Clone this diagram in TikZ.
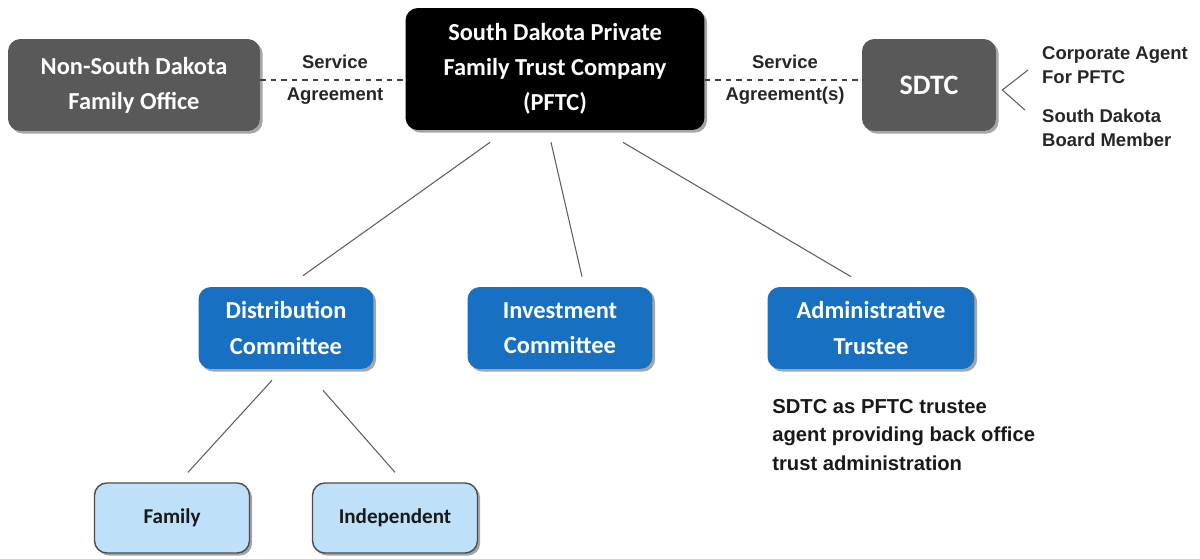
\documentclass[tikz,border=0pt]{standalone}
\usepackage{fontspec}
\setmainfont{Carlito}
\newfontfamily\arialfont{Liberation Sans}
\usetikzlibrary{calc,shadows}
\definecolor{boxGray}{HTML}{595959}
\definecolor{boxBlue}{HTML}{1870C2}
\definecolor{boxLight}{HTML}{BEE0F8}
\definecolor{lineGray}{HTML}{5E5E5E}

\begin{document}
\begin{tikzpicture}[x=0.02cm,y=-0.02cm]
    \tikzset{
        box/.style={rounded corners=7pt, align=center, font=\bfseries\fontsize{13.9}{20}\selectfont,
            text=white, drop shadow={shadow xshift=1.5pt, shadow yshift=-1.5pt, opacity=0.35, fill=black}},
        darkbox/.style={box, fill=boxGray, minimum width=5.04cm, minimum height=1.84cm},
        blackbox/.style={box, fill=black, minimum width=5.98cm, minimum height=2.44cm},
        bluebox/.style={box, fill=boxBlue, minimum height=1.64cm},
        lightbox/.style={box, fill=boxLight, draw=black!70, thick, text=black!90,
            font=\bfseries\fontsize{12}{14}\selectfont, minimum height=1.4cm},
        link/.style={draw=lineGray, semithick},
        svc/.style={draw=black!75, dashed, semithick},
        lbl/.style={font=\arialfont\bfseries\fontsize{10.5}{13.6}\selectfont, text=black!85}
    }
    \useasboundingbox (0,0) rectangle (1200,558);

    % top row
    \node[darkbox] (office) at (134,85) {Non-South Dakota\\Family Office};
    \node[blackbox] (pftc) at (555,69) {South Dakota Private\\Family Trust Company\\(PFTC)};
    \node[darkbox, minimum width=2.68cm, font=\bfseries\fontsize{16}{20}\selectfont] (sdtc) at (929,85) {SDTC};

    % committees
    \node[bluebox, minimum width=3.5cm] (dist) at (286,328) {Distribution\\Committee};
    \node[bluebox, minimum width=3.7cm] (invest) at (560,328) {Investment\\Committee};
    \node[bluebox, minimum width=4.14cm] (admin) at (871,328) {Administrative\\Trustee};

    \node[lightbox, minimum width=3.1cm] (family) at (172,518) {Family};
    \node[lightbox, minimum width=3.3cm] (indep) at (395,518) {Independent};

    % service agreements
    \draw[svc] ([yshift=0.1cm]office.east) -- ([yshift=0.1cm]office.east -| pftc.west);
    \draw[svc] ([yshift=0.1cm]sdtc.west -| pftc.east) -- ([yshift=0.1cm]sdtc.west);
    \node[lbl] (svcL) at (335,62) {Service};
    \node[lbl] (agrL) at (335,96) {Agreement};
    \node[lbl] (svcR) at (785,62) {Service};
    \node[lbl] (agrR) at (785,96) {Agreement(s)};

    % sdtc roles
    \coordinate (br) at ([xshift=0.12cm,yshift=-0.1cm]sdtc.east);
    \coordinate (brUp) at (1028,70);
    \coordinate (brDown) at (1025,110);
    \draw[link] (brUp) -- (br) -- (brDown);
    \node[lbl, anchor=west, align=left] (agent) at (1036,65) {Corporate Agent\\For PFTC};
    \node[lbl, anchor=west, align=left] (board) at (1036,128) {South Dakota\\Board Member};

    % tree
    \draw[link] ([xshift=-1.3cm,yshift=-0.24cm]pftc.south) -- ([xshift=0.34cm,yshift=0.22cm]dist.north);
    \draw[link] ([xshift=-0.08cm,yshift=-0.24cm]pftc.south) -- ([xshift=0.44cm,yshift=0.2cm]invest.north);
    \draw[link] ([xshift=1.36cm,yshift=-0.24cm]pftc.south) -- ([xshift=-0.4cm,yshift=0.2cm]admin.north);
    \draw[link] ([xshift=-0.28cm,yshift=-0.22cm]dist.south) -- ([xshift=0.32cm,yshift=0.2cm]family.north);
    \draw[link] ([xshift=0.74cm,yshift=-0.42cm]dist.south) -- ([yshift=0.2cm]indep.north);

    \node[anchor=north west, align=left, inner sep=0pt, text=black!90,
        font=\arialfont\bfseries\fontsize{11.5}{16.2}\selectfont] (note) at (772,399)
        {SDTC as PFTC trustee\\agent providing back office\\trust administration};
\end{tikzpicture}
\end{document}
